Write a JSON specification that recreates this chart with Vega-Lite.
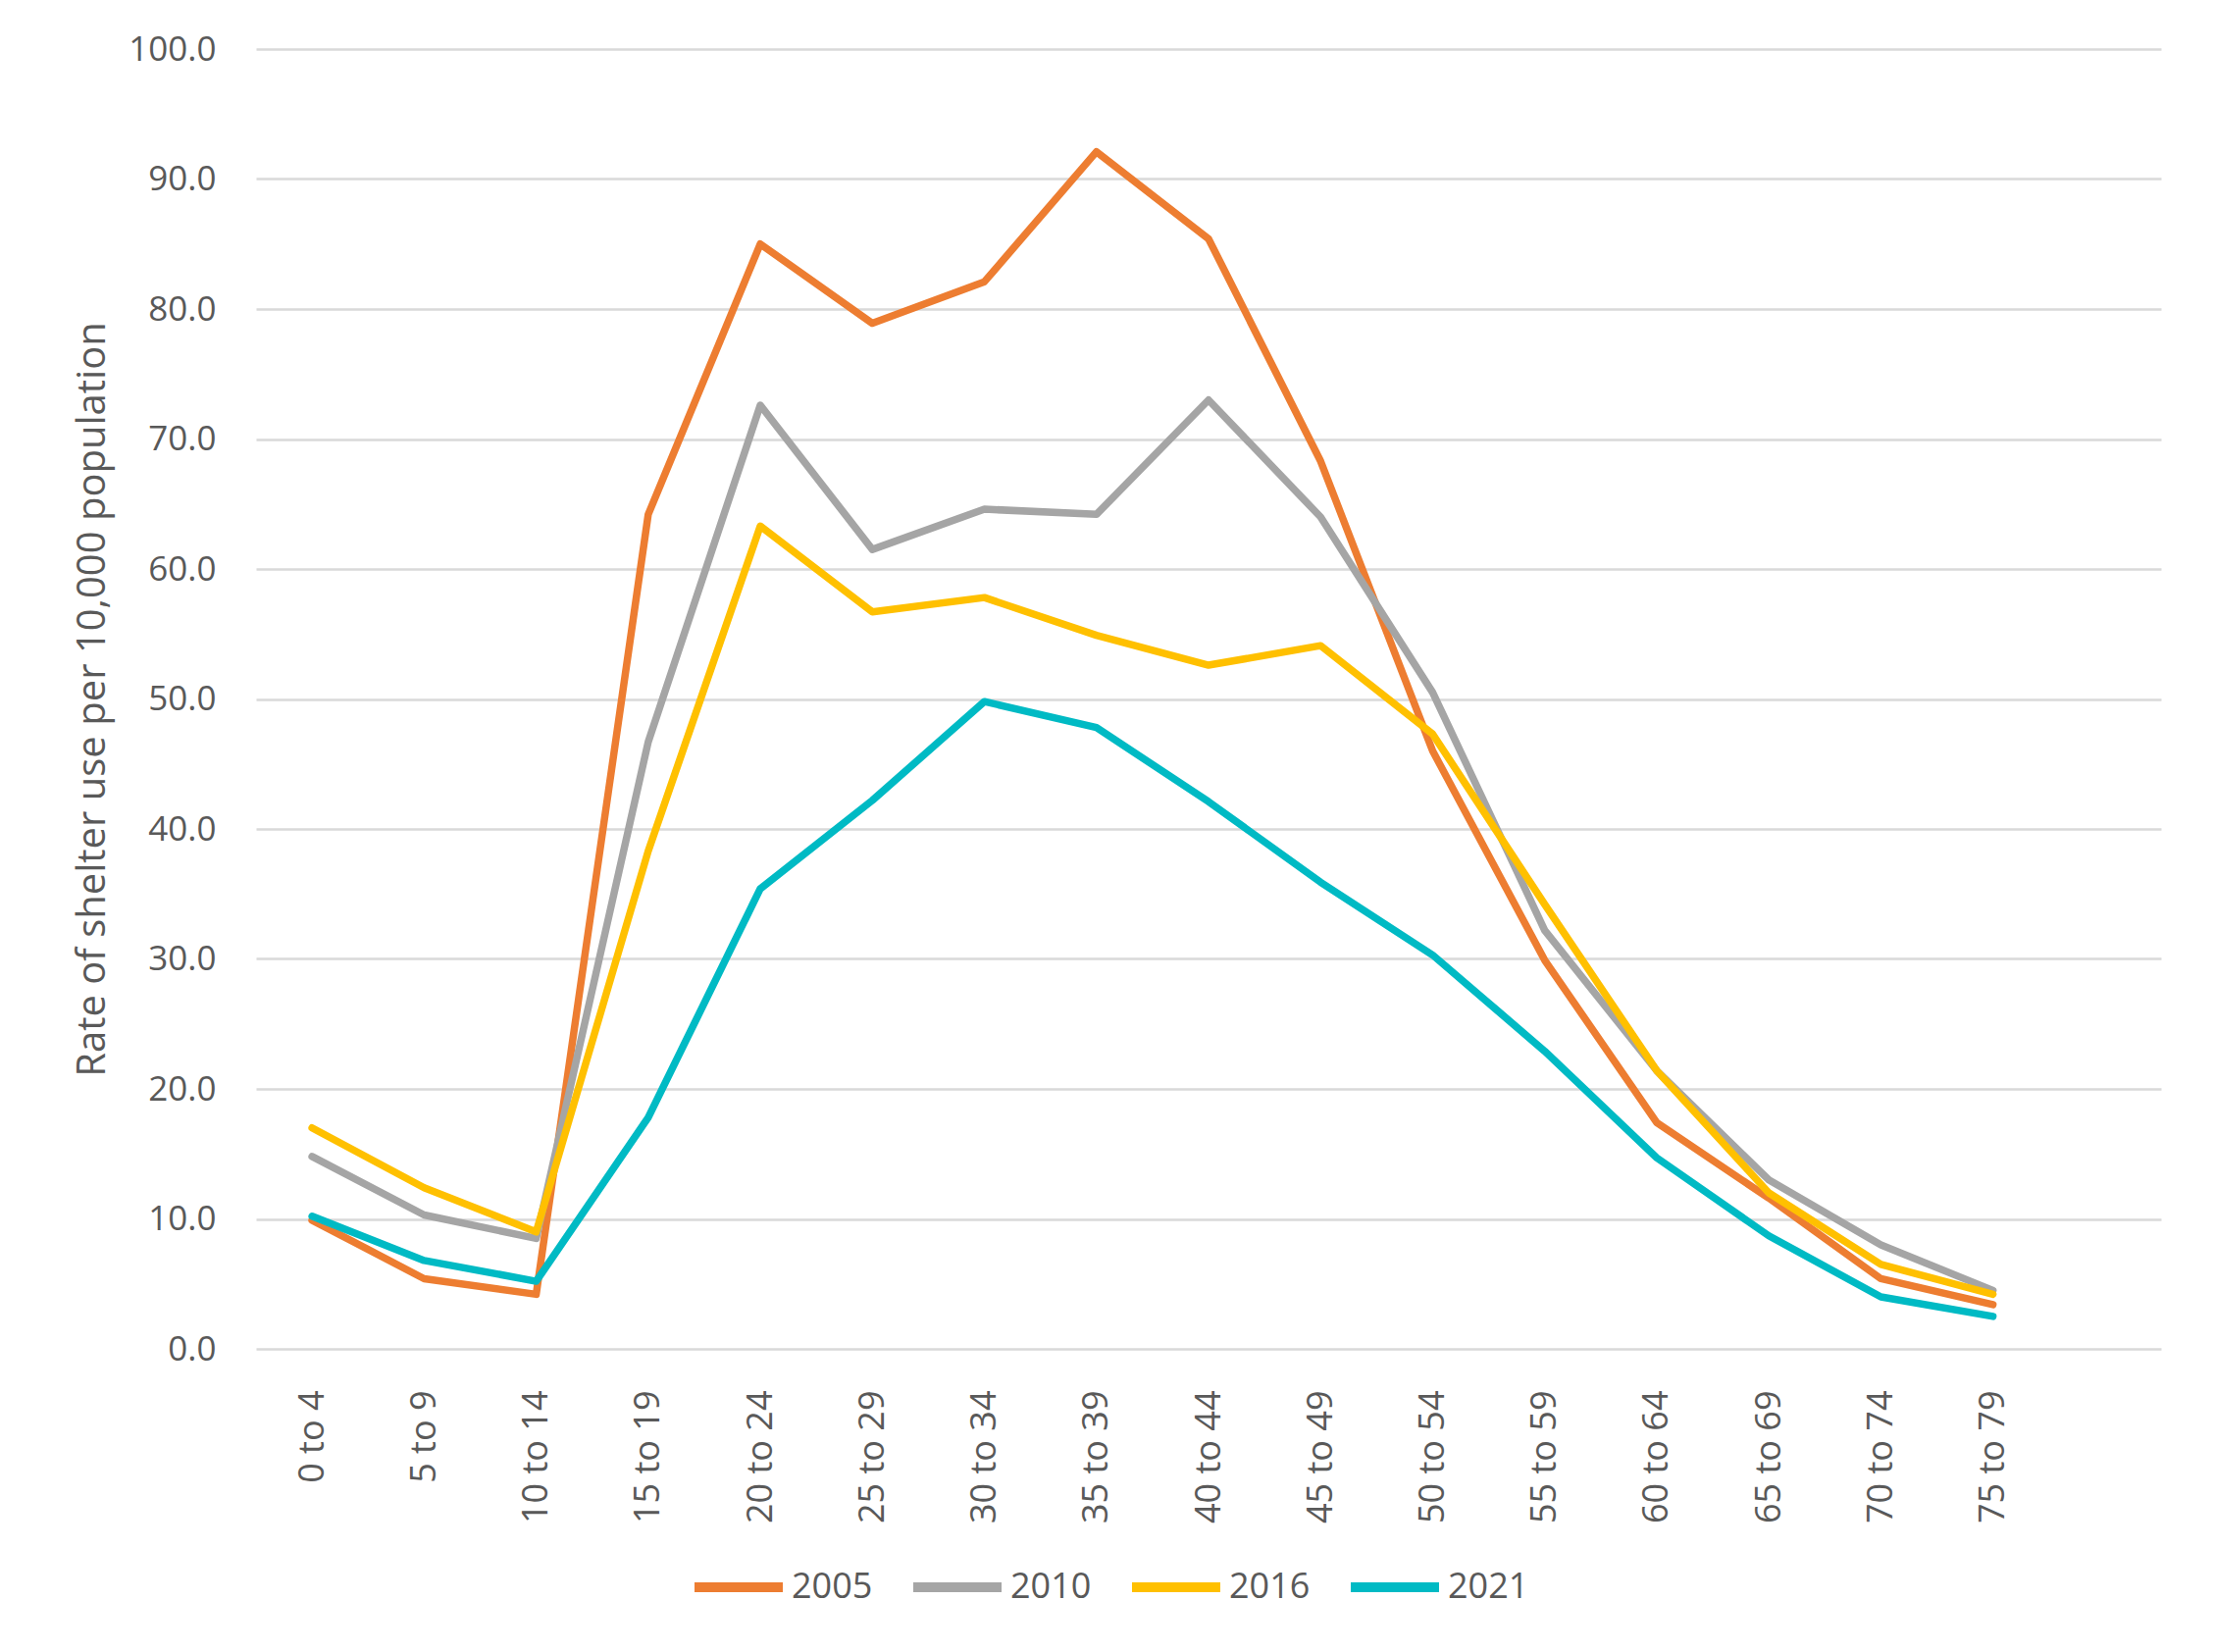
{
  "$schema": "https://vega.github.io/schema/vega-lite/v6.json",
  "autosize": "none",
  "width": 1942,
  "height": 1325,
  "padding": {"left": 261, "top": 50, "right": 54, "bottom": 309},
  "background": "white",
  "config": {
    "view": {"stroke": null},
    "font": "Open Sans"
  },
  "data": {
    "values": [
      {"age": "0 to 4", "year": "2005", "rate": 9.9},
      {"age": "5 to 9", "year": "2005", "rate": 5.4},
      {"age": "10 to 14", "year": "2005", "rate": 4.2},
      {"age": "15 to 19", "year": "2005", "rate": 64.2},
      {"age": "20 to 24", "year": "2005", "rate": 85.0},
      {"age": "25 to 29", "year": "2005", "rate": 78.9},
      {"age": "30 to 34", "year": "2005", "rate": 82.1},
      {"age": "35 to 39", "year": "2005", "rate": 92.1},
      {"age": "40 to 44", "year": "2005", "rate": 85.4},
      {"age": "45 to 49", "year": "2005", "rate": 68.3},
      {"age": "50 to 54", "year": "2005", "rate": 46.0},
      {"age": "55 to 59", "year": "2005", "rate": 29.9},
      {"age": "60 to 64", "year": "2005", "rate": 17.4},
      {"age": "65 to 69", "year": "2005", "rate": 11.6},
      {"age": "70 to 74", "year": "2005", "rate": 5.4},
      {"age": "75 to 79", "year": "2005", "rate": 3.4},
      {"age": "0 to 4", "year": "2010", "rate": 14.8},
      {"age": "5 to 9", "year": "2010", "rate": 10.3},
      {"age": "10 to 14", "year": "2010", "rate": 8.5},
      {"age": "15 to 19", "year": "2010", "rate": 46.7},
      {"age": "20 to 24", "year": "2010", "rate": 72.6},
      {"age": "25 to 29", "year": "2010", "rate": 61.5},
      {"age": "30 to 34", "year": "2010", "rate": 64.6},
      {"age": "35 to 39", "year": "2010", "rate": 64.2},
      {"age": "40 to 44", "year": "2010", "rate": 73.0},
      {"age": "45 to 49", "year": "2010", "rate": 64.0},
      {"age": "50 to 54", "year": "2010", "rate": 50.5},
      {"age": "55 to 59", "year": "2010", "rate": 32.2},
      {"age": "60 to 64", "year": "2010", "rate": 21.4},
      {"age": "65 to 69", "year": "2010", "rate": 13.0},
      {"age": "70 to 74", "year": "2010", "rate": 8.0},
      {"age": "75 to 79", "year": "2010", "rate": 4.5},
      {"age": "0 to 4", "year": "2016", "rate": 17.0},
      {"age": "5 to 9", "year": "2016", "rate": 12.4},
      {"age": "10 to 14", "year": "2016", "rate": 9.0},
      {"age": "15 to 19", "year": "2016", "rate": 38.3},
      {"age": "20 to 24", "year": "2016", "rate": 63.3},
      {"age": "25 to 29", "year": "2016", "rate": 56.7},
      {"age": "30 to 34", "year": "2016", "rate": 57.8},
      {"age": "35 to 39", "year": "2016", "rate": 54.9},
      {"age": "40 to 44", "year": "2016", "rate": 52.6},
      {"age": "45 to 49", "year": "2016", "rate": 54.1},
      {"age": "50 to 54", "year": "2016", "rate": 47.3},
      {"age": "55 to 59", "year": "2016", "rate": 34.2},
      {"age": "60 to 64", "year": "2016", "rate": 21.4},
      {"age": "65 to 69", "year": "2016", "rate": 12.0},
      {"age": "70 to 74", "year": "2016", "rate": 6.5},
      {"age": "75 to 79", "year": "2016", "rate": 4.2},
      {"age": "0 to 4", "year": "2021", "rate": 10.2},
      {"age": "5 to 9", "year": "2021", "rate": 6.8},
      {"age": "10 to 14", "year": "2021", "rate": 5.2},
      {"age": "15 to 19", "year": "2021", "rate": 17.8},
      {"age": "20 to 24", "year": "2021", "rate": 35.4},
      {"age": "25 to 29", "year": "2021", "rate": 42.2},
      {"age": "30 to 34", "year": "2021", "rate": 49.8},
      {"age": "35 to 39", "year": "2021", "rate": 47.8},
      {"age": "40 to 44", "year": "2021", "rate": 42.1},
      {"age": "45 to 49", "year": "2021", "rate": 35.9},
      {"age": "50 to 54", "year": "2021", "rate": 30.3},
      {"age": "55 to 59", "year": "2021", "rate": 22.9},
      {"age": "60 to 64", "year": "2021", "rate": 14.7},
      {"age": "65 to 69", "year": "2021", "rate": 8.7},
      {"age": "70 to 74", "year": "2021", "rate": 4.0},
      {"age": "75 to 79", "year": "2021", "rate": 2.5}
    ]
  },
  "mark": {"type": "line", "strokeWidth": 7.5, "strokeCap": "round", "strokeJoin": "round"},
  "encoding": {
    "x": {
      "field": "age",
      "type": "nominal",
      "sort": null,
      "scale": {
        "type": "point",
        "padding": 0.5,
        "domain": ["0 to 4", "5 to 9", "10 to 14", "15 to 19", "20 to 24", "25 to 29", "30 to 34", "35 to 39", "40 to 44", "45 to 49", "50 to 54", "55 to 59", "60 to 64", "65 to 69", "70 to 74", "75 to 79", " "]
      },
      "axis": {
        "title": null,
        "domain": false,
        "ticks": false,
        "labelAngle": -90,
        "labelAlign": "right",
        "labelBaseline": "middle",
        "labelPadding": 42,
        "labelFont": "Open Sans",
        "labelFontSize": 36,
        "labelColor": "#595959"
      }
    },
    "y": {
      "field": "rate",
      "type": "quantitative",
      "scale": {"domain": [0, 100], "nice": false, "zero": true},
      "axis": {
        "title": "Rate of shelter use per 10,000 population",
        "titleFont": "Open Sans",
        "titleFontSize": 40,
        "titleFontWeight": "normal",
        "titleColor": "#595959",
        "titlePadding": 16,
        "values": [0, 10, 20, 30, 40, 50, 60, 70, 80, 90, 100],
        "format": ".1f",
        "domain": false,
        "ticks": false,
        "labelPadding": 41,
        "labelFont": "Open Sans",
        "labelFontSize": 35,
        "labelColor": "#595959",
        "grid": true,
        "gridColor": "#D9D9D9",
        "gridWidth": 2.5
      }
    },
    "color": {
      "field": "year",
      "type": "nominal",
      "scale": {
        "domain": ["2005", "2010", "2016", "2021"],
        "range": ["#ED7D31", "#A5A5A5", "#FFC000", "#00BAC4"]
      },
      "legend": {
        "title": null,
        "orient": "none",
        "direction": "horizontal",
        "legendX": 442,
        "legendY": 1518,
        "symbolType": "stroke",
        "symbolSize": 8100,
        "symbolStrokeWidth": 10,
        "labelFont": "Open Sans",
        "labelFontSize": 36,
        "labelColor": "#595959",
        "labelOffset": 4,
        "columnPadding": 21
      }
    }
  }
}
